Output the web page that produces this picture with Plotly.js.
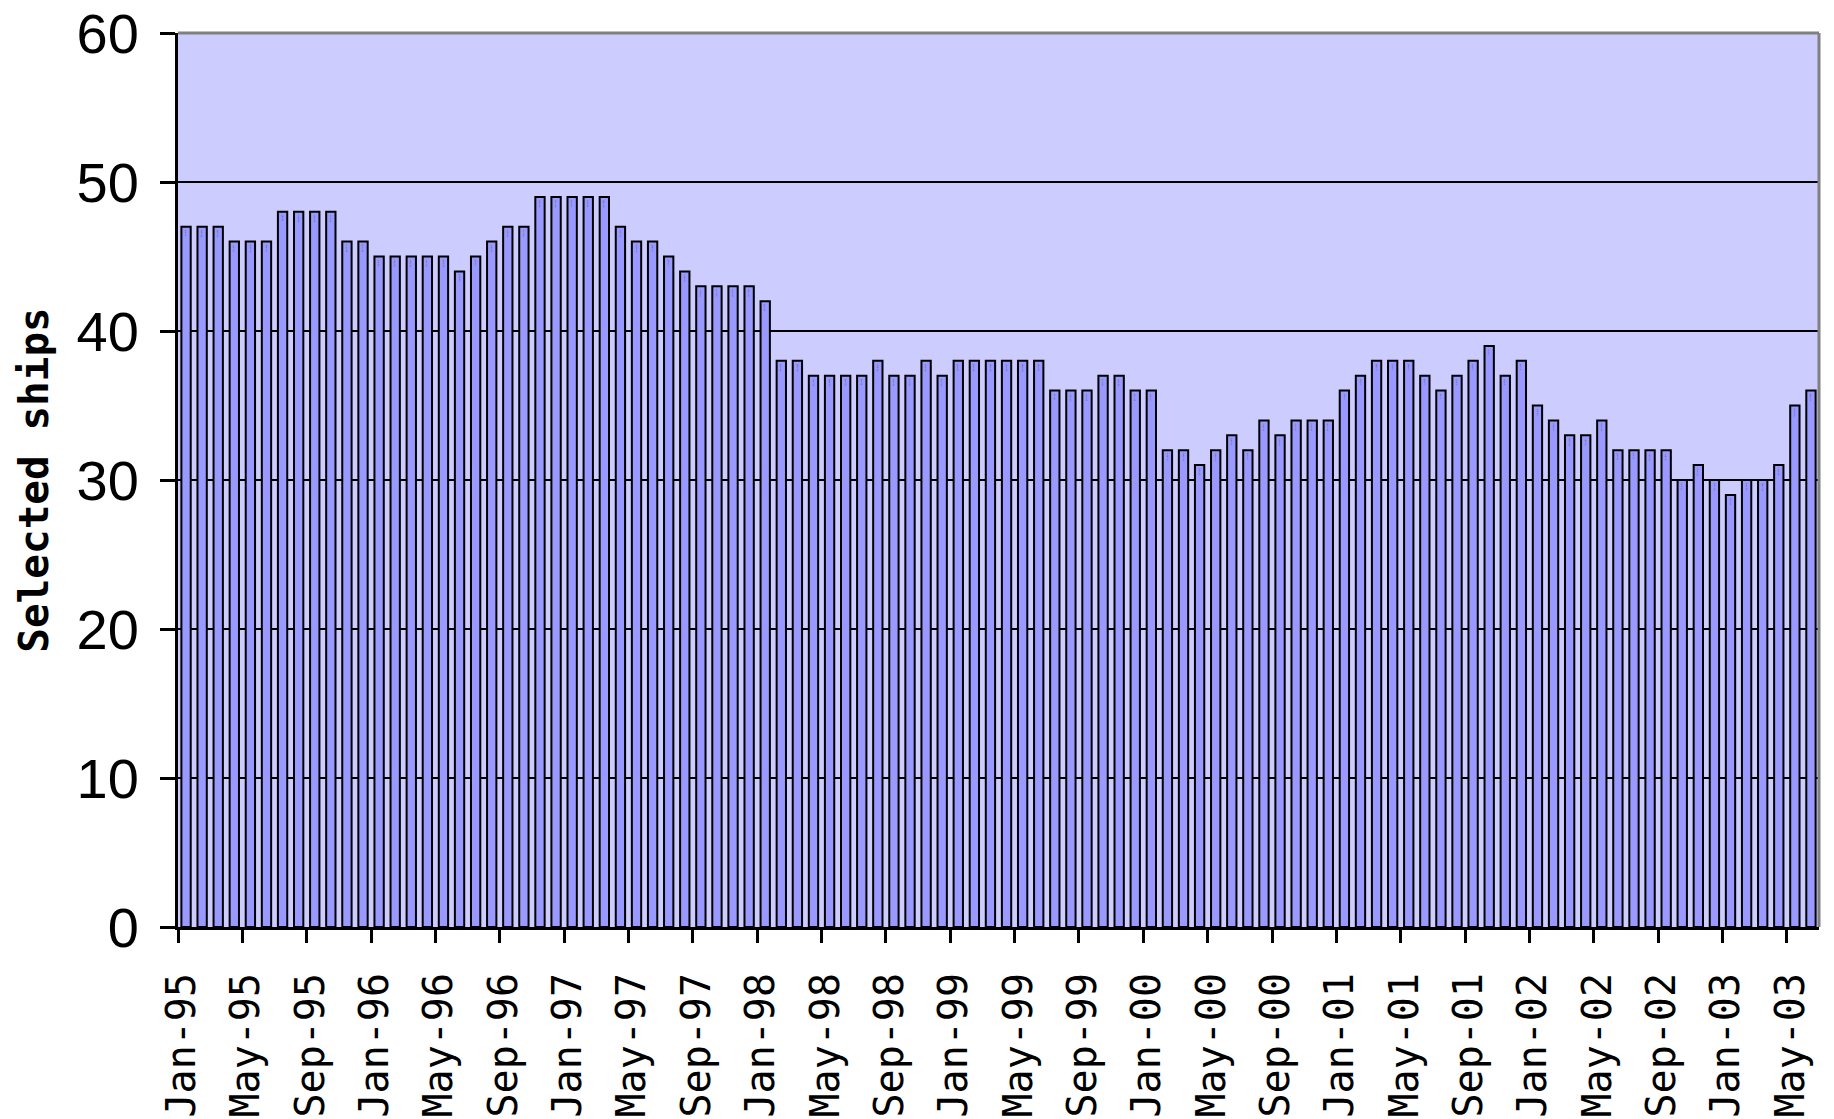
<!DOCTYPE html>
<html>
<head>
<meta charset="utf-8">
<script src="https://cdn.plot.ly/plotly-3.0.1.min.js"></script>
<style>
  html, body { margin: 0; padding: 0; background: #ffffff; }
  #chart { width: 1834px; height: 1119px; }
</style>
</head>
<body>
<div id="chart"></div>
<script>
// Month names and years covered (Jan-95 .. Jun-03)
const monthNames = ["Jan","Feb","Mar","Apr","May","Jun","Jul","Aug","Sep","Oct","Nov","Dec"];
const years = ["95","96","97","98","99","00","01","02","03"];

// Selected ships per month
const ships1995 = [47,47,47,46,46,46,48,48,48,48,46,46];
const ships1996 = [45,45,45,45,45,44,45,46,47,47,49,49];
const ships1997 = [49,49,49,47,46,46,45,44,43,43,43,43];
const ships1998 = [42,38,38,37,37,37,37,38,37,37,38,37];
const ships1999 = [38,38,38,38,38,38,36,36,36,37,37,36];
const ships2000 = [36,32,32,31,32,33,32,34,33,34,34,34];
const ships2001 = [36,37,38,38,38,37,36,37,38,39,37,38];
const ships2002 = [35,34,33,33,34,32,32,32,32,30,31,30];
const ships2003 = [29,30,30,31,35,36];

const yTickVals = [0,10,20,30,40,50,60];
const labelEvery = 4; // a label every 4 months

const values = [].concat(ships1995, ships1996, ships1997, ships1998, ships1999,
                         ships2000, ships2001, ships2002, ships2003);
const months = [];
for (let i = 0; i < values.length; i++) {
  months.push(monthNames[i % 12] + "-" + years[Math.floor(i / 12)]);
}
const xIdx = months.map((m, i) => i);
const tickVals = [], tickText = [];
months.forEach((m, i) => {
  if (i % labelEvery === 0) { tickVals.push(i - 0.5); tickText.push(m); }
});

const trace = {
  type: "bar",
  x: xIdx,
  y: values,
  text: months,
  hoverinfo: "text+y",
  marker: { color: "#9999FF", line: { color: "#000000", width: 2 } }
};

const layout = {
  width: 1834,
  height: 1119,
  paper_bgcolor: "#ffffff",
  plot_bgcolor: "#CCCCFF",
  showlegend: false,
  bargap: 0.42,
  margin: { l: 178, r: 15, t: 33, b: 192, pad: 0 },
  xaxis: {
    range: [-0.5, values.length - 0.5],
    tickmode: "array",
    tickvals: tickVals,
    ticktext: tickText,
    tickangle: -90,
    ticks: "outside",
    ticklen: 13,
    tickwidth: 3,
    tickcolor: "#000000",
    ticklabelstandoff: 14,
    ticklabelshift: 4,
    showgrid: false,
    zeroline: false,
    showline: true,
    linecolor: "#000000",
    linewidth: 3,
    automargin: false,
    tickfont: { family: "DejaVu Sans Mono", size: 40, color: "#000000" }
  },
  yaxis: {
    range: [0, 60],
    tickmode: "array",
    tickvals: yTickVals,
    ticks: "outside",
    ticklen: 15,
    tickwidth: 3,
    tickcolor: "#000000",
    ticklabelstandoff: 10,
    ticklabeloverflow: "allow",
    showgrid: true,
    gridcolor: "#000000",
    gridwidth: 2.5,
    zeroline: false,
    showline: true,
    linecolor: "#000000",
    linewidth: 3,
    automargin: false,
    tickfont: { family: "Liberation Sans, Arial, sans-serif", size: 56, color: "#000000" },
    title: {
      text: "<b>Selected ships</b>",
      standoff: 16,
      font: { family: "DejaVu Sans Mono", size: 41, color: "#000000" }
    }
  },
  shapes: [
    { type: "line", xref: "paper", yref: "paper", x0: 0, x1: 1, y0: 1, y1: 1,
      line: { color: "#808080", width: 3 }, layer: "above" },
    { type: "line", xref: "paper", yref: "paper", x0: 1, x1: 1, y0: 0, y1: 1,
      line: { color: "#808080", width: 3 }, layer: "above" }
  ]
};

Plotly.newPlot("chart", [trace], layout, { displayModeBar: false, staticPlot: true });
</script>
</body>
</html>
